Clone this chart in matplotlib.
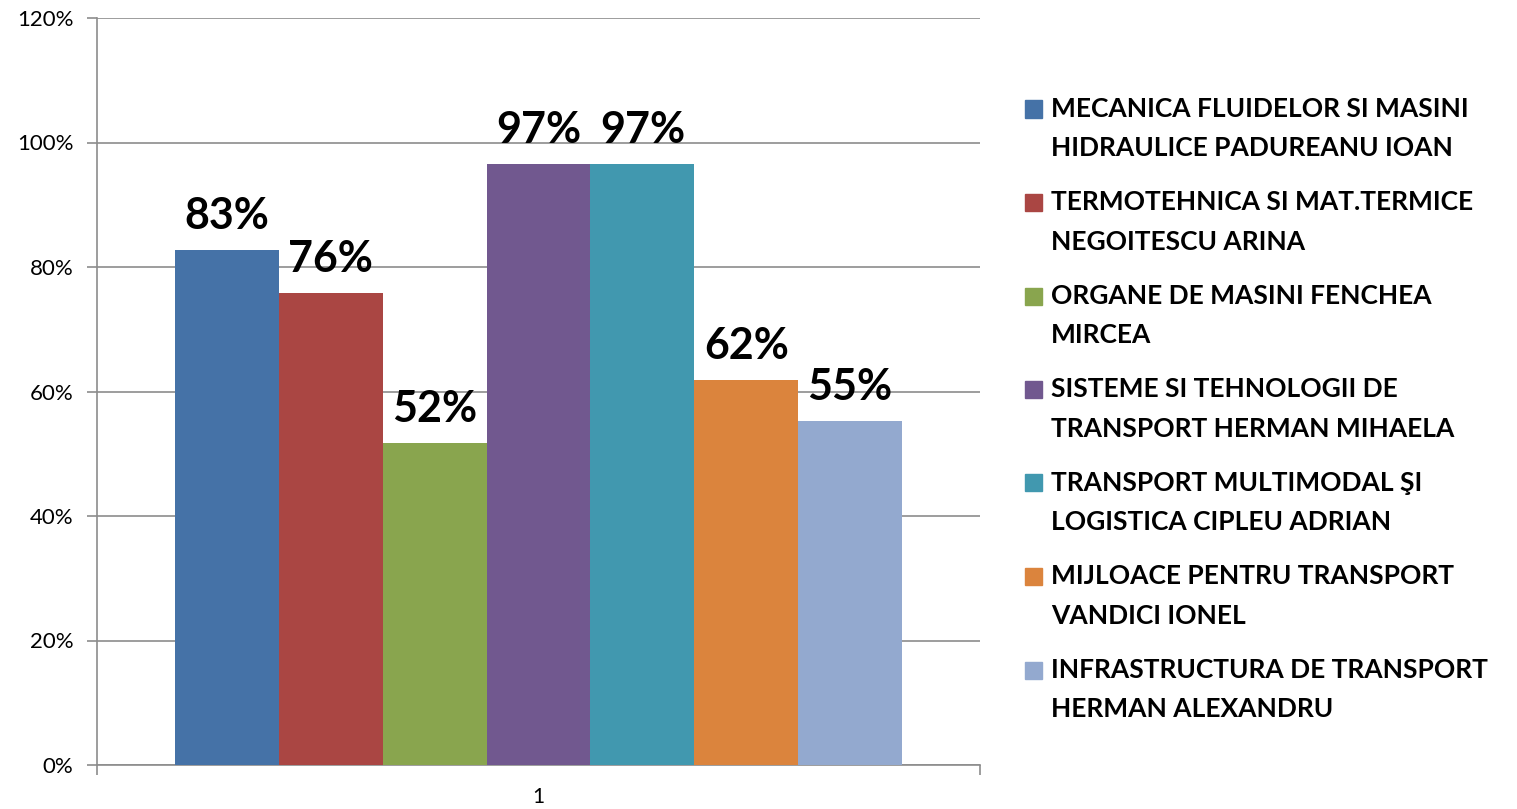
import matplotlib
matplotlib.use("Agg")
import matplotlib.pyplot as plt
from matplotlib.patches import Rectangle
from matplotlib.ticker import PercentFormatter

plt.rcParams["font.family"] = ["Lato", "DejaVu Sans"]

# data
series = [
    ("MECANICA FLUIDELOR SI MASINI", "HIDRAULICE PADUREANU IOAN"),
    ("TERMOTEHNICA SI MAT.TERMICE", "NEGOITESCU ARINA"),
    ("ORGANE DE MASINI FENCHEA", "MIRCEA"),
    ("SISTEME SI TEHNOLOGII DE", "TRANSPORT HERMAN MIHAELA"),
    ("TRANSPORT MULTIMODAL ŞI", "LOGISTICA CIPLEU ADRIAN"),
    ("MIJLOACE PENTRU TRANSPORT", "VANDICI IONEL"),
    ("INFRASTRUCTURA DE TRANSPORT", "HERMAN ALEXANDRU"),
]
values = [0.828, 0.759, 0.518, 0.966, 0.966, 0.619, 0.553]
colors = ["#4572A7", "#AA4643", "#89A54E", "#71588F", "#4198AF", "#DB843D", "#93A9CF"]
category = "1"

W, H = 1517, 809
fig = plt.figure(figsize=(W / 100, H / 100), dpi=100)
ax = fig.add_axes([97 / W, 1 - 765 / H, (980 - 97) / W, (765 - 18) / H])

n = len(values)
bw = (903 - 176) / 883 / n
for i, (v, c) in enumerate(zip(values, colors)):
    x = (i - (n - 1) / 2) * bw
    ax.bar(x, v, width=bw, color=c, zorder=3)
    ax.annotate(f"{v:.0%}", (x, v), xytext=(0, 10), textcoords="offset points",
                ha="center", va="bottom", fontsize=31, fontweight="bold", zorder=4)

ax.set_xlim(-0.5, 0.5)
ax.set_ylim(0, 1.2)
ax.set_yticks([0, 0.2, 0.4, 0.6, 0.8, 1.0, 1.2])
ax.yaxis.set_major_formatter(PercentFormatter(1.0, decimals=0))
ax.grid(axis="y", color="#8c8c8c", linewidth=1.2, zorder=0)
ax.set_xticks([0])
ax.set_xticklabels([category])
ax.set_xticks([-0.5, 0.5], minor=True)
ax.tick_params(axis="x", which="major", length=0, pad=16, labelsize=15)
ax.tick_params(axis="x", which="minor", length=7, color="#8c8c8c", width=1.2)
ax.tick_params(axis="y", length=7, color="#8c8c8c", width=1.2, pad=10, labelsize=16)
for s in ("top", "right"):
    ax.spines[s].set_visible(False)
for s in ("left", "bottom"):
    ax.spines[s].set_color("#8c8c8c")
    ax.spines[s].set_linewidth(1.2)

# legend, two text lines per entry
for i, ((l1, l2), c) in enumerate(zip(series, colors)):
    y = 109 + i * 93.5
    fig.patches.append(Rectangle((1025 / W, 1 - (y + 8.5) / H), 17 / W, 17 / H,
                                 transform=fig.transFigure, color=c))
    fig.text(1051 / W, 1 - y / H, l1, fontsize=19, fontweight="bold", va="center")
    fig.text(1051 / W, 1 - (y + 39) / H, l2, fontsize=19, fontweight="bold", va="center")

fig.savefig("out.png", dpi=100, facecolor="white")
